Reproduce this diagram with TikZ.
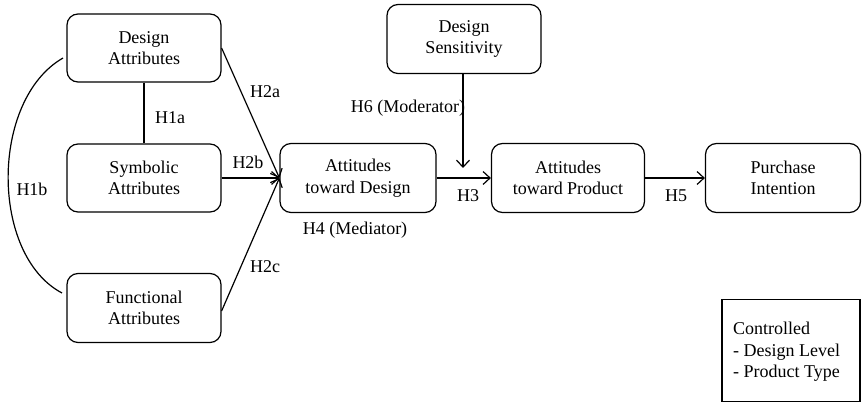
\documentclass[tikz,border=0pt]{standalone}
\usepackage{fontspec}
\setmainfont{Liberation Serif}
\newfontfamily\tnrfont{Liberation Serif}
\usetikzlibrary{arrows.meta}
\begin{document}
\begin{tikzpicture}[x=1pt,y=-1pt,
  every node/.style={font=\tnrfont\fontsize{18}{21.6}\selectfont},
  rbox/.style={draw,line width=1.2pt,rounded corners=11pt,align=center,inner sep=0pt},
  conn/.style={line width=1.2pt},
  arr/.style={line width=1.2pt,-{Straight Barb[length=7pt,width=13pt,line width=1.2pt]}},
  lbl/.style={inner sep=0pt}]
\useasboundingbox (0,0) rectangle (863,403);
\node[rbox,minimum width=154pt,minimum height=68pt] (da) at (144,48) {Design\\Attributes};
\node[rbox,minimum width=154pt,minimum height=68pt] (sa) at (144,178) {Symbolic\\Attributes};
\node[rbox,minimum width=154pt,minimum height=69pt] (fa) at (144,308) {Functional\\Attributes};
\node[rbox,minimum width=156pt,minimum height=69pt] (ad) at (358,178) {Attitudes\\toward Design};
\node[rbox,minimum width=154pt,minimum height=69pt] (ds) at (464,39) {Design\\Sensitivity};
\node[rbox,minimum width=153pt,minimum height=69pt] (ap) at (568,178) {Attitudes\\toward Product};
\node[rbox,minimum width=155pt,minimum height=69pt] (pi) at (783,178) {Purchase\\Intention};
\node[draw,line width=1.2pt,minimum width=138pt,minimum height=102pt,inner sep=0pt] (ct) at (791,350.5) {};
\node[anchor=west,align=left,inner sep=0pt] (ctt) at (733,352) {Controlled\\- Design Level\\- Product Type};

\coordinate (h6end) at (463,168);
\draw[conn] (da.south) -- (sa.north);
\draw[conn] (63,58) .. controls (-10,100) and (-10,255) .. (62,293);
\draw[arr] (da.east) -- (ad.west);
\draw[arr] (sa.east) -- (ad.west);
\draw[arr] ([yshift=-3pt]fa.east) -- (ad.west);
\draw[arr] (ad.east) -- (ap.west);
\draw[arr] (ap.east) -- (pi.west);
\draw[arr] ([xshift=-1pt]ds.south) -- (h6end);

\node[lbl] (l2a) at (265,92) {H2a};
\node[lbl] (l1a) at (170,118) {H1a};
\node[lbl] (l2b) at (248,162) {H2b};
\node[lbl] (l1b) at (32,189) {H1b};
\node[lbl] (l2c) at (265,267) {H2c};
\node[lbl] (l6) at (408,108) {H6 (Moderator)};
\node[lbl] (l4) at (355,230) {H4 (Mediator)};
\node[lbl] (l3) at (468,196) {H3};
\node[lbl] (l5) at (676,196) {H5};
\end{tikzpicture}
\end{document}
